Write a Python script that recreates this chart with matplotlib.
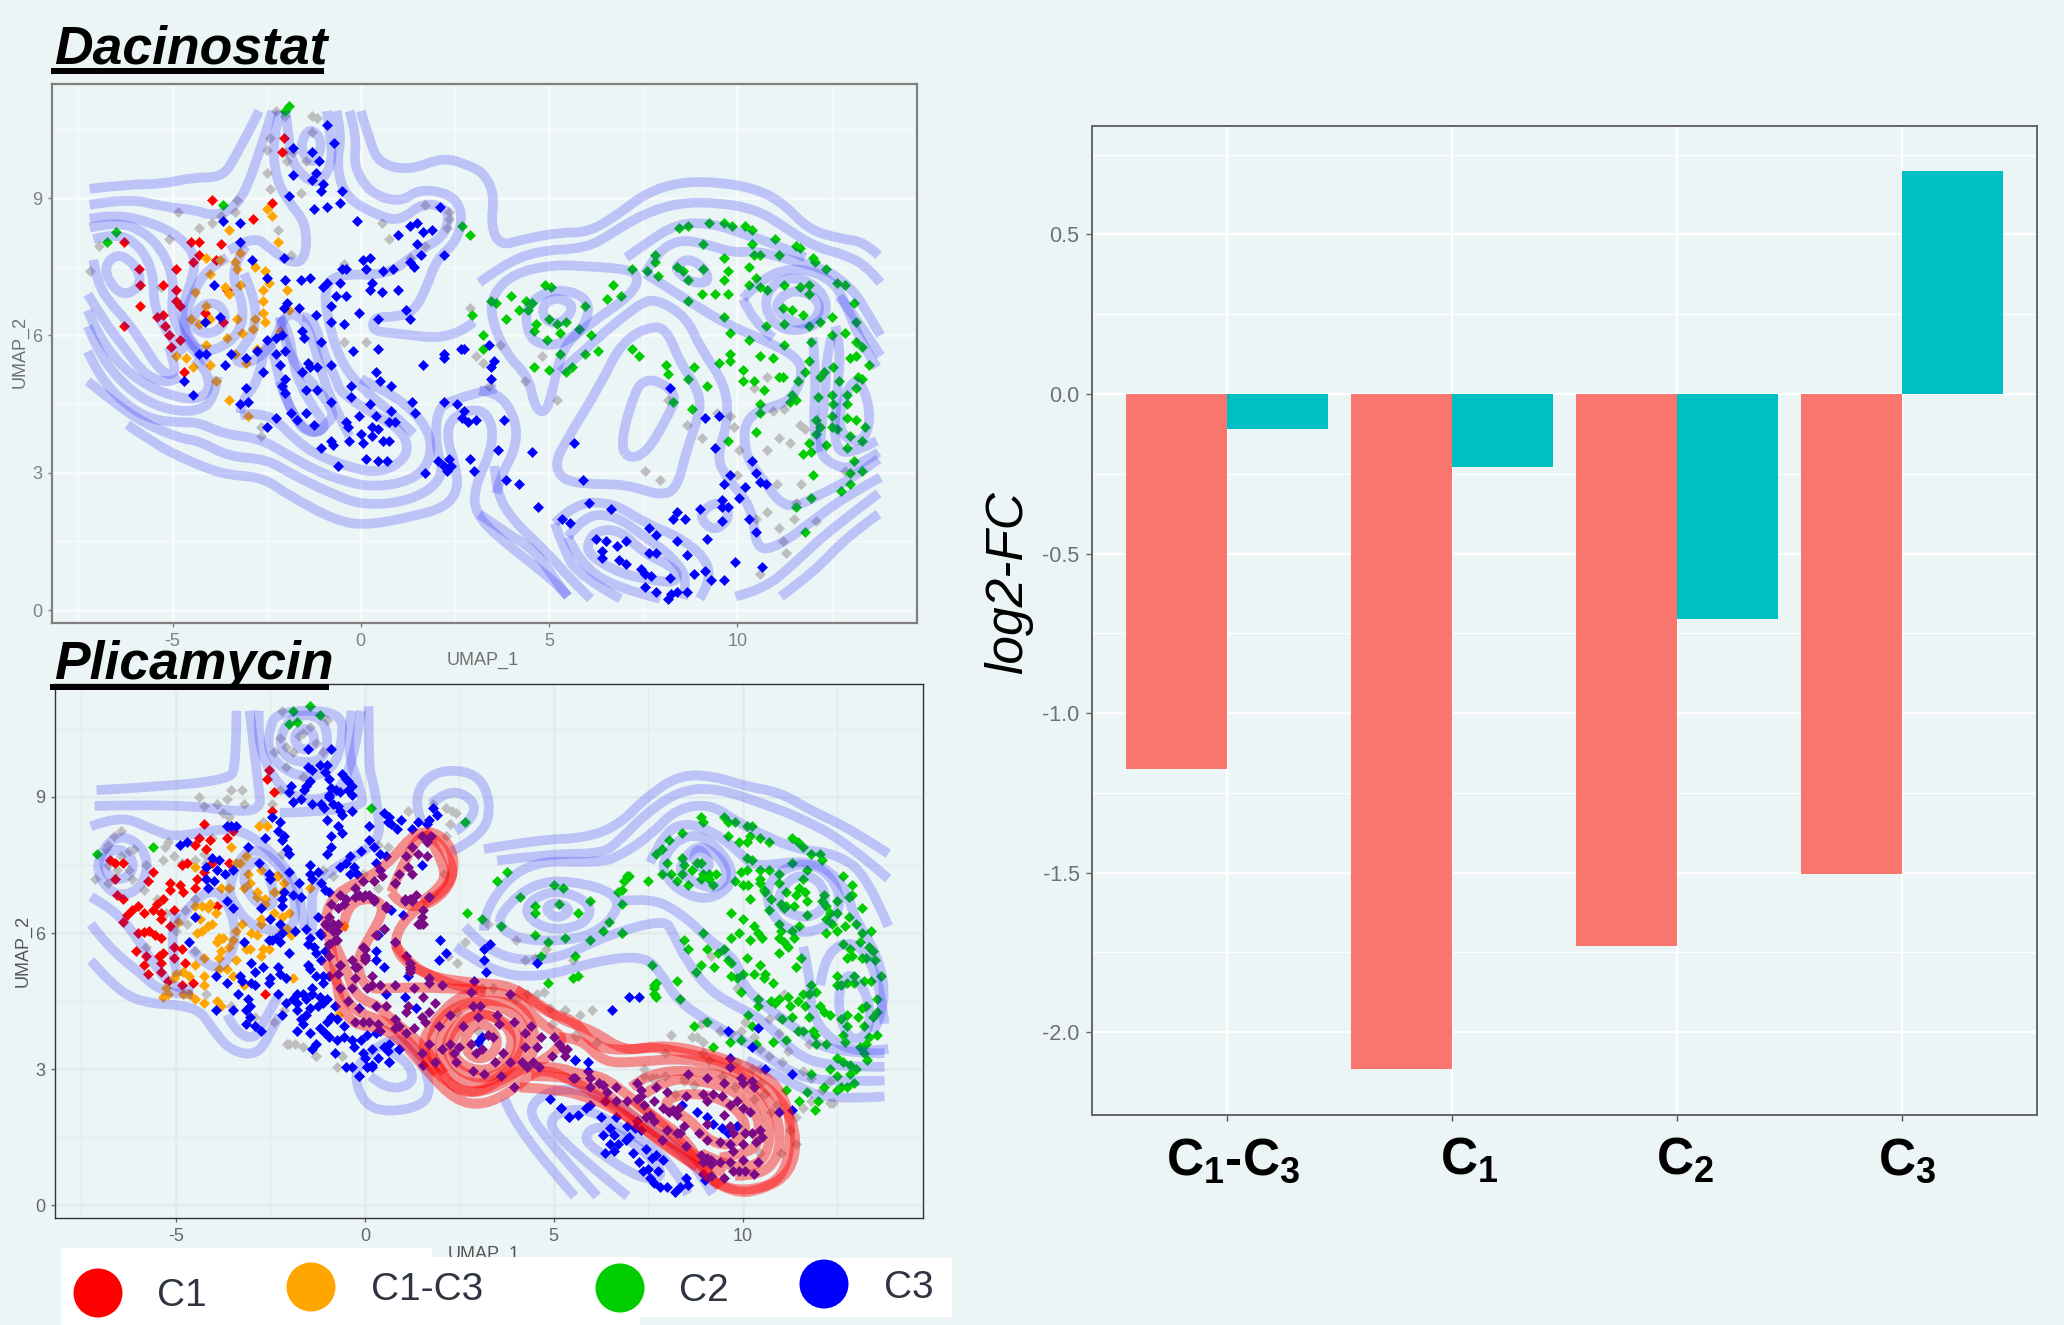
import matplotlib
matplotlib.use("Agg")
import matplotlib.pyplot as plt
from matplotlib.path import Path
from matplotlib.patches import PathPatch, Rectangle, Circle

plt.rcParams['font.family'] = ['Liberation Sans', 'DejaVu Sans']
plt.rcParams['mathtext.fontset'] = 'custom'
plt.rcParams['mathtext.rm'] = 'Liberation Sans:bold'
plt.rcParams['mathtext.bf'] = 'Liberation Sans:bold'
plt.rcParams['mathtext.default'] = 'rm'
plt.rcParams['axes.unicode_minus'] = False

BG = '#ECF5F6'
W, H = 2064, 1325

# ---------- bar chart ----------
bar_categories = [r'$\mathbf{C_1}$-$\mathbf{C_3}$', r'$\mathbf{C_1}$', r'$\mathbf{C_2}$', r'$\mathbf{C_3}$']
bar_red = [-1.175, -2.115, -1.73, -1.505]
bar_teal = [-0.11, -0.23, -0.705, 0.70]

# ---------- Dacinostat points (UMAP_1, UMAP_2) ----------
d_gray = [(-4.85,8.7),(-5.1,8.1),(-7.2,7.4),(-6.95,7.95),(-5.3,7.05),(-3.3,8.95),(-3.35,8.7),(-3.7,8.6),(-3.95,8.45),(-4.3,8.35),
(-2.25,10.9),(-2,10.8),(-1.3,10.8),(-1.15,10.75),(-2.4,10.3),(-2.5,10.05),(-2,10),(-1.8,10),(-1.95,9.8),(-1.45,9.8),(-1.3,10.45),(-2.5,9.55),(-2.4,9.2),(-1.6,9.1),(-2.2,8.3),(-1.85,7.75),
(.55,8.45),(.75,8.1),(1.7,8.85),(2.35,8.7),(2.35,8.55),(2.3,8.35),(1.7,7.95),(1.3,7.7),(-.45,7.55),(-.45,5.85),(.15,5.85),(2.9,6.6),(3.05,5.55),(3.25,5.4),(3.7,5.8),(3.4,4.9),(4.35,5),(4.8,5.55),(5.2,4.6),
(7.55,3.05),(7.95,2.85),(8.15,4.6),(8.65,4.05),(9.05,3.75),(9.45,4.3),(9.8,4.25),(9.9,4),(10.05,3.5),(10.8,3.5),(11.1,3.75),(11.4,3.65),(11.65,4.05),(11.8,3.95),(11.25,4.4),(10.95,4.35),(10.8,5.1),(10.45,4.85),(10,2.95),(11.05,2.75),(11.7,2.75),(11.55,2.35),(12.1,1.95),(11.5,2),(10.8,2.15),(10.5,2),(11.1,1.8),(11.2,1.5),(11.3,1.25),(10.6,.8),(12.85,3.05),(-2.65,4),(-2.65,3.8)]
d_red = [(-3.95,8.95),(-2.35,8.9),(-2.85,8.55),(-2.1,10),(-2.05,10.3),(-6.3,8.05),(-5.9,7.45),(-5.85,7.1),(-5.85,6.65),(-6.3,6.2),(-4.9,7.45),(-5.25,7.1),(-4.9,7),(-4.9,6.75),(-4.8,6.65),(-5.4,6.4),(-5.25,6.45),(-5.2,6.2),(-5.1,6),(-5.05,5.75),(-4.8,5.9),(-4.7,5.2),(-4.5,8.05),(-4.3,8.05),(-4.45,7.6),(-4.3,7.75),(-3.7,8),(-3.55,7),(-4.15,6.5),(-3.65,6.3),(-3.85,7.65)]
d_orange = [(-2.35,8.6),(-2.5,8.75),(-3.5,8.3),(-2.2,8.05),(-3.2,7.8),(-3.35,7.6),(-3.75,7.65),(-4.1,7.7),(-4,7.35),(-3.3,7.45),(-2.8,7.5),(-2.55,7.4),(-2.45,7.15),(-2.6,7),(-3.2,7.1),(-3.6,7.05),(-3.5,6.9),(-4.4,6.95),(-4.1,6.65),(-4.5,6.35),(-4.3,6.25),(-4,6.35),(-3.3,6.35),(-2.6,6.75),(-2.6,6.5),(-2.55,6.3),(-2.8,6.35),(-2.85,6.15),(-3.15,6.05),(-3.55,5.95),(-4.1,5.8),(-3.35,5.6),(-3.05,5.4),(-2.75,5.7),(-2.15,6.1),(-1.9,6.55),(-1.95,7),(-4.9,5.55),(-4.65,5.5),(-4,5.35),(-3.85,5),(-4.45,5.3),(-3.5,4.6),(-3,4.25)]
d_green = [(-2,10.9),(-1.9,11),(-6.5,8.25),(-6.75,8.05),(-3.65,8.85),(2.7,8.4),(2.9,8.2),(8.45,8.35),(8.7,8.4),(9.25,8.45),(9.65,8.45),(9.85,8.4),(10.2,8.4),(10.4,8.3),(10.4,8),(11,8.1),(11.55,7.95),(11.65,7.9),(12,7.7),(12.05,7.6),(12.35,7.45),(9.1,8),(10.45,7.75),(10.6,7.75),(11.1,7.75),(9.65,7.7),(10.3,7.5),(7.8,7.75),(7.8,7.6),(7.6,7.4),(7.2,7.45),(7.9,7.3),(8.4,7.5),(8.55,7.4),(8.7,7.2),(9.1,7.45),(9.75,7.4),(9.65,7.2),(9.05,6.9),(9.4,6.9),(9.75,6.9),(8.7,6.75),(9.65,6.4),(10.3,7.1),(10.5,7.25),(10.6,7.05),(10.8,7),(11.25,7.1),(11.65,7.05),(11.9,7.1),(11.9,6.9),(12.65,7.15),(12.85,7.1),(13.1,6.7),(11.2,6.6),(11.45,6.55),(11.75,6.45),(12.5,6.4),(11.9,6.2),(12.2,6.3),(11.25,6.25),(10.75,6.2),(10.3,5.9),(9.8,6.05),(13.15,6.3),(12.5,6),(12.85,6.05),(11.95,5.85),(11.25,5.8),(11.9,5.45),(11.8,5.2),(12.3,5.2),(12.2,5.1),(12.7,5),(11.6,5),(11.2,5.1),(13.15,5.85),(13.3,5.75),(13.15,5.55),(13.5,5.35),(13.2,5.1),(13,5.5),(12.55,5.3),(13.3,5.05),(13.15,4.85),(12.15,4.65),(12.9,4.7),(12.5,4.7),(12.55,4.5),(12.9,4.5),(11.45,4.7),(11.55,4.6),(11.4,4.55),(10.6,4.5),(10.6,4.3),(12.5,4.25),(12.9,4.2),(13.15,4.15),(12.5,4),(12.2,4),(12.65,3.95),(13.4,4),(13,3.8),(13.3,3.7),(12.1,4.15),(12.1,3.85),(12.35,3.6),(12.9,3.55),(11.9,3.65),(11.75,3.4),(11.95,3.45),(13.1,3.25),(13,3),(13.3,3.05),(12,2.95),(13,2.75),(12.75,2.6),(11.95,2.45),(11.55,2.25),(11.8,1.7),
(9.5,5.4),(9.8,5.6),(9.8,5.45),(10.15,5.25),(10.6,5.55),(10.45,5),(10.15,5),(10.95,5.5),(11.1,5.1),(10.7,4.8),(8.85,5.3),(8.7,5.05),(9.2,4.9),(8.1,5.35),(8.15,5.15),(8.8,4.4),(8.3,4.55),(7.2,5.7),(7.4,5.55),(9.75,3.7),(10.5,3.9),
(3.45,6.75),(3.6,6.7),(4,6.85),(3.85,6.35),(4.2,6.55),(4.4,6.75),(4.55,6.7),(4.45,6.55),(4.9,7.1),(5.05,7.05),(2.95,6.45),(3.25,6),(3.25,5.7),(4.65,6.25),(4.6,6.1),(5,6.35),(5.2,6.25),(5.45,6.3),(5.3,6.05),(4.95,5.9),(5.8,6.15),(5.95,6.65),(6.7,7.1),(6.55,6.8),(6.9,6.85),(6.1,6),(6.3,5.65),(5.95,5.6),(5.6,5.3),(5.45,5.2),(5.3,5.6),(5,5.25),(4.6,5.3)]
d_blue = [(-.9,10.6),(-.7,10.2),(-1.3,10),(-1.8,10.1),(-1.1,9.8),(-1.8,9.5),(-1.2,9.55),(-1.3,9.4),(-1,9.3),(-.5,9.15),(-1.05,9.15),(-1.9,9.05),(-.55,8.9),(-.9,8.8),(-1.25,8.75),(-.1,8.5),(2.1,8.8),(1.3,8.4),(1.5,8.45),(1.65,8.25),(1.9,8.3),(1,8.2),(1.5,8),(2.2,7.75),(1.6,7.75),(1.3,7.6),(1.4,7.5),(.85,7.45),(.6,7.4),(.25,7.7),(.05,7.65),(.15,7.45),(-.5,7.45),(-.4,7.45),(-3.2,8.45),(-3.65,8.5),(-2.9,7.65),(-3.2,8.05),(-2.05,7.7),(-2.5,7.25),(-2,7.2),(-1.6,7.2),(-1.35,7.25),(-.9,7.15),(-1,7.05),(-.55,7.15),(.3,7.15),(.25,7),(.55,6.95),(1,7),(-.65,6.85),(-.4,6.85),(-.8,6.65),(-.05,6.5),(.45,6.35),(1.2,6.55),(1.3,6.35),(-.45,6.25),(-.8,6.3),(-1.2,6.45),(-1.65,6.6),(-1.95,6.7),(-2.05,6.6),(-1.55,6.1),(-1.5,5.95),(-1.05,5.85),(-2.25,5.95),(-2.1,6),(-2.5,5.9),(-2,5.65),(-.2,5.65),(.45,5.7),(-1.4,5.4),(-1.35,5.3),(-1.55,5.2),(-1.15,5.3),(-.8,5.35),(.4,5.2),(-2.25,5.6),(-2.15,5.35),(-2,5.05),(-2.1,4.9),(-2,4.75),(-1.45,4.8),(-1.15,4.8),(-.8,4.55),(-.25,4.9),(-.25,4.65),(.5,5),(.8,4.9),(1.65,5.35),(2.2,5.5),(2.2,5.6),(2.65,5.7),(2.75,5.7),(3.4,5.8),(3.55,5.45),(3.45,5.05),(3.45,5.3),(1.35,4.55),(1.45,4.3),(2.2,4.55),(2.55,4.5),(2.75,4.35),(2.7,4.2),(2.85,4.1),(3.05,4.15),(3.8,4.15),(.25,4.5),(.4,4.25),(.8,4.35),(.75,4.1),(.9,4.1),(-.05,4.25),(-.4,4.1),(-.35,4),(.3,4),(.45,3.95),(0,3.85),(.3,3.8),(.6,3.7),(.75,3.7),(.05,3.65),(-.3,3.7),(-.8,3.7),(-.75,3.6),(-1.05,3.55),(-.6,3.15),(.15,3.3),(.45,3.25),(.7,3.25),(1.7,3),(2.05,3.25),(2.35,3.3),(2.4,3.15),(2.3,3.05),(2.2,3.15),(3,3.05),(2.9,3.3),(3.65,3.5),(4.55,3.45),(3.85,2.85),(4.2,2.75),(4.7,2.25),(5.65,3.65),(5.9,2.85),(6.05,2.35),(6.65,2.2),(5.35,2),(5.55,1.9),(6.25,1.55),(6.5,1.5),(6.8,1.4),(7.05,1.5),(6.4,1.3),(6.4,1.15),(6.85,1.1),(7.05,1),(7.45,.9),(7.55,.8),(7.7,.75),(7.65,1.8),(7.85,1.65),(7.65,1.25),(7.85,1.25),(8.4,1.5),(8.65,1.2),(8.2,.7),(7.55,.5),(7.85,.4),(8.15,.25),(8.25,.35),(8.4,.4),(8.65,.4),(8.85,.8),(9.15,.85),(9.3,.65),(9.65,.65),(9.95,1.05),(10.65,.95),(9.2,1.55),(8.4,2.15),(8.3,2),(8.6,2),(9,2.2),(9.6,2.4),(9.6,2.25),(9.75,2.25),(9.6,1.95),(10.3,2),(10.5,1.7),(10.05,2.45),(9.65,2.75),(10.2,2.7),(9.8,2.95),(10.5,3),(10.6,2.8),(10.75,2.75),(10.4,3.25),(9.4,3.55),(9.15,4.2),(9.5,4.25),(8.2,4.85),
(-3.9,7.1),(-3.75,6.4),(-4.15,6.3),(-4.3,5.6),(-4.1,5.6),(-3.6,5.35),(-3.45,5.6),(-3.05,5.5),(-2.75,5.65),(-2.6,5.2),(-3.05,4.85),(-3.2,4.5),(-3,4.55),(-2.25,4.2),(-2.5,4),(-1.85,4.3),(-1.45,4.3),(-1.7,4.15),(-1.25,4.05),(-4.7,5),(-4.45,4.7)]

# ---------- Plicamycin points (UMAP_1, UMAP_2) ----------
p_gray = [(-4.4,9),(-4.25,8.8),(-3.9,8.85),(-3.65,8.95),(-3.55,9.15),(-3.25,9.15),(-3.2,8.85),(-3.75,8.65),(-3.6,8.55),(-4.05,8.1),(-4.25,7.75),(-5.3,7.9),(-5.2,8),(-5.05,7.7),(-4.85,7.55),(-4.5,7.6),(-5.35,7.6),(-6.45,8.25),(-6.65,8.15),(-6.8,7.95),(-6.85,7.85),(-6.1,7.85),(-6.25,7.8),(-6.45,7.7),(-6.55,7.4),(-6.8,7.5),(-7.15,7.2),(-6.8,7.1),(-6.15,7.2),(-5.8,7.5),(-5.85,6.95),(-6.25,7.4),
(-2.2,10.9),(-2.25,10.3),(-1.75,10.35),(-1.65,10.4),(-1.3,10.2),(-1.45,10.55),(-1,10.7),(-2.4,10),(-2.1,10.1),(-1.9,10),(-1.1,10),(-2.1,9.65),(-1.65,9.45),(-2.25,9.15),(-2.45,8.85),(-2.7,8.45),(-2.2,7.75),
(1.15,8.7),(1.8,8.85),(2.15,8.75),(2.3,8.7),(2.4,8.65),(2.25,8.4),(2.15,8.15),(.35,7.95),(.6,7.9),(-.85,7.25),(-1.1,7.4),(-.05,7.3),(.35,7),(2.1,7.3),(-4.2,7.55),(-5.5,6.75),(-5.25,6.45),(-4.7,6.2),(-4.75,6.5),(-4.5,6.75),(-5,6.05),(-5.8,5.7),(-4.5,5.6),(2.65,5.8),(2.45,5.35),(2.2,5.5),(-2,3.55),(-1.85,3.55),(-1.65,3.5),(-.75,3.05),(-.6,3.3),(-1.3,3.3),(-2.9,4.15),(-2.4,4.05),(-2.15,4.3),(-3.55,4.4),(-4.2,4.65),
(9.15,5.5),(11.1,4.65),(8.1,3.75),(8.9,4),(8.8,3.7),(8.95,3.6),(9.4,3.85),(9.7,3.8),(9.95,3.85),(10.3,3.7),(10.7,4.1),(10.95,4.15),(10.05,4.05),(10.95,3.8),(9.85,4.8),(11.2,3.4),(11.75,3.55),(10.45,3.45),(10.7,3.3),(11.05,3.15),(7.95,3.35),(8.95,3.35),(9.1,3.2),(9.85,3.15),(10.25,3),(10.45,3),(11.6,2.95),(11.8,2.8),(12.3,2.75),(12.1,2.55),(11.8,2.3),(12.3,2.25),(12.4,2.25),(11.6,2.15),(11.4,1.95),(10.3,2.35),(10.55,2.45),(8.45,2.75),(7.6,2.8),(7.4,3),
(3.25,6.2),(4,5.85),(4.25,5.4),(4.5,5.45),(5.5,5.4),(4.8,5.65),(-2.05,3.55),(-1.3,3.3),(-.6,3.3),(4.75,4.7),(4.55,4.65),(5.3,4.3),(4.9,4.35),(4.3,4.65),(4,4.55),(3.4,4.8),(3.1,4.8),(2.45,4.25),(3,3.85),(4.95,4),(5.55,3.75),
(5.3,4.3),(5.7,4.2),(6,4.3),(5.6,3.7),(6.15,3.6),(7.4,2.85),(7.7,2.8),(7.95,2.85),(8.45,2.8),(8.7,2.65),(9.45,2.85),(9.8,2.6),(10.45,2.7),(10.9,2.2),(10.6,2.45),(10.75,2.05),(10.45,1.15),(11,1.15),(11.25,1.65),(11.4,1.35),(8.2,2.45),(9.4,3.85),(9,4.05),(8.65,3.7)]
p_red = [(-4.25,8.4),(-4.4,8.1),(-4.5,7.95),(-4.1,8.05),(-4.2,7.85),(-3.65,8.1),(-3.5,8.25),(-2.6,9.4),(-2.55,9.6),(-2.4,9.1),(-2.45,8.7),(-3.6,7.55),(-4.05,7.55),(-4.25,7.35),(-4.45,7.2),(-4.5,7),(-4.7,7.55),(-4.85,7.5),(-6.75,7.6),(-6.6,7.55),(-6.4,7.55),(-6.6,7.2),(-5.75,7.15),(-5.6,7.35),(-6.55,6.85),(-6.4,6.75),(-5.15,7.1),(-4.9,7.05),(-5.15,6.95),(-4.8,6.9),(-5.35,6.75),(-5.5,6.65),(-5.6,6.5),(-5.4,6.45),(-5.05,6.5),(-6,6.6),(-6.15,6.5),(-6.3,6.4),(-6.4,6.25),(-5.85,6.45),(-5.4,6.3),(-5.15,6.15),(-6,6),(-5.85,6.02),(-5.7,6.05),(-5.55,5.95),(-5.4,5.9),(-6.05,5.6),(-5.8,5.5),(-5.85,5.3),(-5.45,5.5),(-5.35,5.55),(-5.05,5.7),(-4.85,5.65),(-5.05,5.45),(-5.4,5.35),(-5.4,5.15),(-5.75,5.1),(-5.2,4.95),(-4.75,5.35),(-4.55,4.9),(-4.85,4.85),(-2.65,4.65),(-3.9,6.6)]
p_orange = [(-2.8,8.35),(-2.6,8.35),(-3.55,7.9),(-4.5,7.45),(-3.4,7.55),(-3.1,7.3),(-3.05,7.1),(-3.2,7),(-2.75,7.4),(-2.85,6.9),(-2.85,6.8),(-2.65,6.75),(-1.45,7),(-2.35,7.25),(-2.4,6.45),(-4.95,6.25),(-4.1,6.65),(-4.35,6.3),(-4.05,6.2),(-2.05,6.1),(-1.95,5.95),(-2.2,6.05),(-3.15,5.65),(-3.05,5.65),(-2.7,5.65),(-2.55,5.65),(-2.75,5.5),(-.55,6.15),(-4.25,5.45),(-5,5.1),(-4.8,5.15),(-4.65,5.05),(-5.05,5),(-5.25,4.8),(-5.2,4.65),(-4.25,5.05),(-4.25,4.85),(-3.5,5.05),(-4.25,4.45),(-3.9,4.5),(-3.8,4.4),(-4.5,4.55),(-1.9,5),(-.7,4.2),(-3.4,5.4),(-3.75,5.9),
(-3.15,7.7),(-3.3,7.55),(-3.6,7),(-3.8,7),(-2.15,7.1),(-2.3,7.25),(-2.2,6.9),(-2.4,6.9),(-2.65,6.65),(-2.2,6.35),(-2,6.45),(-2.75,6.3),(-2.75,6.2),(-3,6),(-2.85,5.95),(-3.25,6.2),(-3.4,6.05),(-4.5,6.6),(-4.3,6.6),(-4.15,6.55),(-3.95,6.45),(-4.15,6.15),(-4.3,6.05),(-4.45,6),(-3.85,5.9),(-3.9,5.8),(-3.5,5.85),(-3.6,5.7),(-3.8,5.6),(-3.85,5.45),(-3.65,5.2),(-3.85,5.2),(-4.5,5.3),(-4.8,4.65),(-4.65,4.65),(-5.35,4.6),(-3.2,4.85)]
p_green = [(8.9,8.55),(8.95,8.45),(9.5,8.55),(9.6,8.45),(9.8,8.45),(10.1,8.35),(10.25,8.35),(10.2,8.15),(10.45,8.1),(10.7,8),(9.6,8.15),(9.9,8),(10.1,8),(11.3,8.1),(11.45,8),(11.6,7.9),(8.4,8.2),(8.05,8.05),(7.85,7.85),(7.7,7.75),(8,7.55),(8.4,7.65),(8.45,7.5),(7.85,7.3),(8.1,7.3),(8.25,7.15),(8.55,7.05),(8.4,7.3),(8.65,7.4),(8.8,7.55),(8.9,7.55),(8.95,7.3),(8.9,7.2),(9.1,7.3),(9.3,7.3),(9.2,7.05),(9.1,7.2),(9.8,7.15),(10,7.05),(10.15,7.05),(10.45,7.1),(10.45,7.2),(10.45,7.4),(10.7,7.4),(10.1,7.65),(10.25,7.6),(9.95,7.35),(10.1,7.4),(10.55,6.95),(10.75,6.75),(10.6,6.9),(10.2,6.75),(10.95,7.1),(10.95,7.3),(11.15,6.9),(11.3,7.55),(11.7,7.4),(11.6,7.2),(11.8,7.75),(12.05,7.75),(12.1,7.6),(12.65,7.25),(12.9,7.05),(12.9,6.85),(12.8,6.8),(11.5,7),(11.4,6.85),(11.65,6.9),(11.7,6.7),(11.35,6.6),(11.15,6.6),(11,6.65),(11.1,6.55),(12.15,6.85),(12.1,6.7),(12.2,6.6),(12.5,6.7),(12.5,6.45),(12.3,6.45),(12.2,6.3),(11.7,6.4),(11.5,6.15),(12.35,6.2),(12.2,6),(12.5,6.05),(12.7,6.15),(12.8,6.35),(10.7,6.5),(10.95,6.2),(11,6.05),(11.3,6.05),(11.35,5.9),(10.95,5.9),(11.1,5.8),(11.2,5.7),(13.15,6.55),(13,6.2),(13.15,6),(13.4,6.05),(13.1,5.8),(13.35,5.7),(13.45,5.6),(13.25,5.45),(13.5,5.4),(13.65,5.05),(13.4,4.95),(13.55,4.55),(13.25,4.4),(13.55,4.25),(13.45,4.15),(13.15,4.35),(13.05,4.15),(13.2,3.95),(13.55,3.75),(13.35,3.7),(13.25,3.55),(13.1,3.5),(13.2,3.35),(13.3,3.2),(13,3),(12.85,2.9),(12.95,2.7),(12.75,2.6),(12.5,2.55),(12.6,2.6),(12.5,2.85),(12.3,3),(12.65,3.15),(12.85,3.1),(12.5,3.25),(12.2,3.55),(12.7,3.6),(12.65,3.75),(12.75,3.95),(12.6,4.1),(12.75,4.2),(12.3,4.2),(12.05,4.4),(12.15,4.25),(11.75,4.15),(11.3,4.15),(10.95,4.55),(11.2,4.6),(11.45,4.5),(11.25,4.4),(10.85,4.45),(10.75,4.5),(10.4,4.55),(10.4,4.4),(10.15,4.2),(11.05,4.1),(11.8,4.85),(11.6,4.65),(11.75,4.65),(11.95,4.7),(11.65,4.4),(12.5,5.05),(12.5,4.85),(12.6,4.85),(12.75,4.9),(12.95,5.05),(12.95,4.9),(13.2,4.95),(11.55,5.45),(11.4,5.25),(10.95,5.55),(12.65,5.75),(12.85,5.65),(12.75,5.45),(12.9,5.5),(13.15,5.45),(10.1,5.45),(10.45,5.3),(10.3,5.1),(10.6,5.1),(10.55,5),(10.8,4.9),(10,5.1),(9.85,5),(9.7,5.05),(9.95,4.7),(9.25,5.25),(8.9,5.3),(8.75,5.15),(9.35,5.55),(9.5,5.65),(9.6,5.4),(9.7,5.35),(9.05,5.65),(8.95,6),(8.55,5.65),(8.45,5.85),(9.7,5.9),(9.9,6),(10.2,5.85),(10.3,6.15),(10.4,6),(10.5,5.9),(10,6.3),(9.7,6.45),(7.6,5.3),(8.25,4.95),(7.7,4.9),(7.65,4.8),(7.7,4.6),(8.35,4.55),(8.7,3.95),(9.05,4.05),(9.2,3.5),(9.65,3.6),(9.95,3.65),(10.25,3.95),(10.35,3.55),(10.8,3.6),(11.15,3.65),(11.45,3.85),(11.6,3.85),(11.85,3.85),(11.9,3.75),(11.95,3.55),(11.8,2.9),(12.15,2.6),(11.15,2.55),(11.5,2.3),(11.7,2.5),(11.9,2.1),(12,2.3),(6.95,7.25),(7,7.25),(6.85,7.15),(6.8,6.95),(7.5,7.15),(6.8,6.65),(6.8,6),
(3.75,7.35),(3.5,7.15),(2.7,6.45),(3.1,6.3),(3.6,6.15),(4.1,6.8),(4.5,6.6),(4.5,6.45),(5,7.05),(5.25,7),(5.15,6.65),(5.95,6.7),(5.65,6.45),(4.5,5.95),(4.85,5.8),(5.3,5.9),(5.95,5.85),(6.3,6.05),(6.8,6),(6.45,6.25),(6.7,6.9),(5.55,5.5),(4.65,5.5),(5.5,5),(5.65,5.05),(4.85,4.9),(7.65,4.85),(7.65,4.65),
(-7.1,7.75),(-5.6,7.9),(.15,8.75),(2.65,8.45),(-1.9,10.9),(-1.45,11),(-1.2,10.8),(-2,10.6),(-1.8,10.65)]
p_blue = [(-.9,10.05),(-1.5,10.05),(-1.5,9.65),(-1.4,9.6),(-1.2,9.7),(-1,9.7),(-1.05,9.55),(-.6,9.5),(-.5,9.4),(-.45,9.35),(-.35,9.25),(-.95,9.4),(-1.45,9.35),(-1.55,9.25),(-1.6,9.15),(-1.95,9.25),(-2,9.1),(-1.9,8.9),(-1.7,8.95),(-1.4,8.85),(-1.15,8.85),(-1.08,8.75),(-.9,9.2),(-.77,9.15),(-.95,9.05),(-.95,9),(-.85,8.85),(-.7,8.8),(-.65,8.7),(-.6,8.6),(-.35,8.7),(-.45,9.15),(-.35,9.05),(-.65,9.1),
(-1,8.5),(-.7,8.35),(.1,8.35),(-.9,8.15),(-.6,8.2),(.1,8.05),(-.9,7.9),(-1,7.75),(-.1,7.8),(.25,7.9),(-.4,7.7),(-.5,7.55),(-.65,7.45),(.5,8.65),(.65,8.55),(.6,8.45),(.7,8.4),(.95,8.5),(.85,8.3),(1.4,8.45),(1.7,8.5),(1.9,8.6),(1.8,8.75),(1.65,8.4),(1.25,8.3),(.4,7.75),(.3,7.55),(.4,7.4),(-.3,7.45),(-.2,7.3),(-.4,7.3),(.55,7.7),(1.5,7.5),
(-2.45,8.55),(-2.25,8.45),(-2.3,8.25),(-2.15,8.15),(-2.2,8.05),(-2.05,7.85),(-2,7.75),(-2.65,8.1),(-3.4,8.35),(-3.55,8.35),(-3.65,8.35),(-4.9,7.95),(-4.7,8),(-3.1,7.9),(-3.85,7.6),(-4.05,7.65),(-4.2,7.45),(-3.9,7.4),(-3.5,7.4),(-3.7,7.3),(-4.2,7.2),(-4,7.15),(-4.15,7),(-3.65,6.7),(-3.5,6.55),(-4.5,6.35),(-2.8,7.55),(-2.55,7.3),(-2.5,7.2),(-2.15,6.9),(-2.2,6.75),(-2.2,6.6),(-2,7.35),(-1.75,7.1),(-1.9,6.85),(-1.7,6.8),(-2.75,6.55),(-2.5,6.3),(-2.25,6.2),(-1.85,6.05),(-1.55,6.1),(-1.45,7.5),(-1.45,7.3),(-1.25,7.35),(-1.4,7.2),(-1.15,7.1),(-1.05,6.95),(-.95,6.9),(-2.25,5.8),(-2.35,5.9),(-2.55,5.85),(-2.45,5.85),(-2.2,6),(-4.65,5.8),(-3.2,5.8),(-1.45,5.9),(-1.5,5.75),(-1.15,5.95),(-1.2,6),(-1.25,6.35),(-1.05,5.6),(-1.35,5.7),(-1.3,5.55),(-1.15,5.4),(-2,5.55),(-3,5.35),(-2.7,5.25),(-2.9,5.15),(-2.3,5.25),(-2.25,5.1),(-2.1,5),(-2.5,5),(-2.55,4.9),(-1.5,5.3),(-1.45,5.2),(-1.3,5.05),(-1.1,5.05),(-.95,5.05),(-1.1,4.9),(-1.4,4.8),(-3.95,5.05),(-3.65,4.9),(-3.3,5.05),(-3.25,4.95),(-3,4.9),(-2.9,4.85),(-3.35,4.65),(-2.3,4.65),(-1.8,4.65),(-1.65,4.65),(-1.9,4.55),(-2.1,4.45),(-1.8,4.45),(-1.55,4.55),(-1.4,4.65),(-1.2,4.6),(-1,4.55),(-1.1,4.45),(-1.8,4.3),(-1.45,4.35),(-1.25,4.4),(-.8,4.4),(-3.95,4.3),(-3.5,4.3),(-3.1,4.55),(-3.05,4.4),(-3.15,4.3),(-3.05,4.15),(-3.15,4),(-2.9,3.95),(-2.75,3.85),(-2.2,4.2),(-1.7,4.1),(-1.55,4.2),(-1.8,3.85),(-1.65,4),(-1.45,3.8),(-1.2,3.9),(-1,4.05),(-.9,4.15),(-.75,4.1),(-1.05,3.8),(-.95,3.7),(-.75,3.65),(-.55,3.7),(-.55,3.95),(-.35,3.65),(-.1,3.65),(.05,3.75),(.3,3.8),(.4,3.85),(-.3,3.5),(-.05,3.35),(.2,3.45),(.5,3.5),(.6,3.4),(.9,3.45),(-1.3,3.55),(-1.4,3.45),(-.8,3.35),(0,3.25),(.35,3.25),(.65,3.15),(-.5,3.05),(-.35,3.05),(-.15,2.85),(.05,3.05),(.2,3.1),
(2,5.85),(2.15,5.55),(1.95,5.4),(3.15,5.65),(3.3,5.75),(3.15,5.4),(3.2,5.15),(4.55,5.35),(2.9,4.95),(.5,6.1),(.35,5.95),(1,6.4),(.7,6.5),(1.1,5.5),(.3,5.6),(.5,5.25),(.3,5.4),(1.05,4.6),(1.35,4.35),(.3,4.4),(-.15,4.35),(.55,4.65),(1.15,5.05),(.65,3.55),(.9,3.45),(.65,3.15),(.2,3.05),(.05,3.05),(-.15,2.85),(1.55,3.1),(4.9,2.35),(5.2,2.15),(5.4,1.95),(5.55,3.2),(3.1,3.7),(3,3.6),
(7,4.6),(7.25,4.6),(6.55,4.3),(5.55,3.2),(5.9,3.15),(5.9,2.95),(5.2,2.15),(5.4,1.95),(5.65,2),(5.85,2.15),(5.95,2.2),(6.25,1.95),(6.35,2.3),(6.65,1.95),(6.5,1.7),(6.3,1.55),(6.6,1.55),(6.5,1.35),(6.7,1.35),(6.9,1.45),(7,1.5),(6.6,1.2),(6.35,1.15),(7.1,1.15),(6.95,1.75),(7.15,1.7),(7.3,1.65),(7.45,1.25),(7.7,1.1),(7.6,1.05),(7.9,1),(7.25,.95),(7.5,.8),(7.35,.75),(7.75,.75),(7.55,.6),(7.65,.5),(7.8,.4),(8,.4),(8.2,.3),(8.35,.4),(8.55,.45),(8.5,.6),(8.95,.7),(9,.55),(7.2,1.85),(8.8,2.05),(9.05,1.95),(9.45,1.7),(9.6,1.6),(9.2,1.8),(9.85,1.75),(8.4,2.2),(9.65,1.35),(9.6,3.85),(10.4,3.9),(10.25,3.5),(9.65,3.25),(10.6,3),(11.3,2.9),(11.3,2.1),(10.95,2.05)]
# C3 cells lying under the red Plicamycin density read as purple
p_purple = [(-.95,6.35),(-1.05,6.2),(-.85,6.05),(-.7,6.2),(-.65,6.85),(-.9,6.65),(-.55,6.65),(-.25,6.8),(-.05,6.8),(.1,6.85),(.25,6.75),(.55,6.55),(.8,7.1),(1.05,6.75),(1.25,6.7),(1.7,6.8),(1.5,6.35),(1.4,6.2),(1.55,6.2),(.8,5.8),(1.2,5.35),(1.2,5.2),(1.7,5),(1.7,4.9),(2.05,4.85),(1.3,4.8),(.8,4.85),(.4,4.85),(.2,4.85),(.05,4.8),(.2,5.05),(-.25,5),(-.35,4.8),(-.65,4.8),(-.7,5.1),(-.65,5.3),(-.25,5.25),(0,5.4),(0,5.5),(-.05,5.7),(-.35,5.4),(-.45,4.5),(-.95,5.5),(-.75,5.85),(-.95,5.75),
(-.25,4.05),(-.05,4.05),(.1,4.05),(.35,4),(.55,4.4),(.8,4.1),(.9,3.95),(.8,3.9),(1.1,3.8),(1.3,3.9),(1.15,4.4),(1.1,4.25),(1.55,4.6),(1.5,4.15),(1.6,4.05),(1.7,4.25),(1.85,4.45),(1.95,3.95),(2.25,4.2),(1.5,3.35),(1.7,3.55),(1.85,3.15),(2.05,3.45),(2.25,3.55),(2.35,3.35),(2.5,3.5),(2.6,3.95),(2.85,4.4),(3.05,4.4),(3,4.15),(2.8,4.7),(2.8,3.55),(3.1,3.45),(2.4,3.15),(2.85,2.95),(3.15,2.9),(3.6,2.85),(3.85,3.15),(3.45,3.15),(3.65,3.35),(3.5,4.2),(3.85,4.65),(3.95,4.05),(4.15,3.15),(4.3,3.05),(4.45,3.15),(4.25,3.5),(4.55,3.5),(4.65,3.7),(4.25,3.8),(4.4,3.95),(5,3.7),(5.15,3.55),(5.35,3.45),(5.3,3.3),(4.95,3.3),(4.6,3.05),(3.95,2.6),(5.5,2.8),(3.25,3.75),(3.4,3.7),(2.95,3.35),(3.55,4),
(1.5,8.15),(1.75,8.15),(1.65,8),(1.25,7.9),(1.1,7.7),(1.4,7.75),(1.65,7.7),(1.15,7.45),(1.25,7.3),(.9,7.3),(.8,7.1),(1.35,6.85),(1.7,6.8),(1.05,6.7),(1.2,6.75),(.45,7.25),(.25,7.15),(-.05,7.15),(-.25,7),(0,6.85),(-.15,6.85),(-.5,6.75),(-.7,6.55),(.25,6.7),(.55,6.6),(1.55,6.5),(1.45,6.2),(.5,6.1),(.3,5.95),(0,5.65),(0,5.45),(-.8,5.85),(-1,6.15),(-.85,6.2),(-.75,6.05),(-.95,5.75),(.8,5.8),(1.2,5.25),(1.2,5.15),(-.2,5.25),(-.65,5.3),
(5.25,3.45),(5.55,2.8),(5.95,2.8),(5.95,2.6),(6.2,2.7),(6.3,2.65),(6.4,2.5),(6.65,2.6),(6.65,2.3),(6.95,2.3),(7.2,2.7),(7.3,2.55),(7.3,2.4),(7.2,2.35),(7.4,2.2),(7.7,2.6),(7.65,2.3),(8,2.5),(8.55,2.9),(9.05,2.8),(9.5,2.7),(9.65,3.05),(9.95,2.8),(10.25,2.75),(10.3,2.6),(10,2.7),(8.95,2.45),(9.2,2.45),(9.05,2.3),(9.45,2.4),(9.85,2.3),(9.65,2.2),(10,2.15),(9.5,2),(10.2,2.05),(8.5,2.4),(8.3,2.15),(8.15,2.1),(8.45,1.75),(8.25,2),(8.05,2.05),(7.9,2.15),(7.65,1.85),(7.45,1.95),(7.55,2),(8,1.65),(8.25,1.6),(8.35,1.6),(9.05,1.8),(8.85,1.6),(9.05,1.45),(9.4,1.4),(9.65,1.75),(9.75,1.6),(10.05,1.6),(10.25,1.6),(10.45,1.65),(10.5,1.5),(10.35,1.4),(9.75,1.2),(10,1.35),(8.5,1.3),(7.85,1.45),(8.9,1.1),(9.05,1.05),(9.15,1),(8.95,.95),(9.15,.9),(9.4,.95),(9.65,.95),(10,1),(10.05,.75),(9.9,.75),(9.75,.75),(9.5,.6),(10.3,.7),(10.4,.95),(9.15,.65)]

# ---------- density contour traces (UMAP_1, UMAP_2), False = open, True = closed ----------
d_contours = [
 (False,[(-7.2,9.2),(-6.2,9.3),(-5.3,9.3),(-4.45,9.45),(-3.75,9.45),(-3.4,9.75),(-2.7,10.9)]),
 (False,[(-7.2,8.85),(-6.2,9),(-5.2,8.8),(-4.45,8.75),(-3.9,8.6),(-3.3,8.8),(-2.85,9.55),(-2.35,10.9)]),
 (False,[(-7.2,8.55),(-6.5,8.65),(-5.5,8.45),(-4.8,8.15),(-4.35,7.7),(-4.55,7.05),(-4.8,6.5),(-4.55,5.9),(-4.1,5.4)]),
 (False,[(-7.2,8.35),(-6.5,8.5),(-5.7,8.25),(-5.15,7.7),(-4.95,7.05),(-5.05,6.5),(-4.7,5.9),(-4.3,5.55)]),
 (False,[(-7.1,8.1),(-6.5,8.25),(-5.85,7.95),(-5.5,7.35),(-5.5,6.65),(-5.15,6.05),(-4.7,5.6)]),
 (True,[(-6.85,7.45),(-6.5,7.8),(-6.05,7.6),(-5.8,7.2),(-6.1,6.9),(-6.5,6.95)]),
 (False,[(-7.1,7.65),(-7,7.15),(-6.65,6.7),(-6.3,6.4),(-5.85,5.9),(-5.4,5.3),(-5.05,5.1),(-4.9,5.3),(-5.1,5.75)]),
 (False,[(-7.25,6.9),(-6.85,6.35),(-6.3,5.75),(-5.7,5.1),(-5.05,4.95),(-4.8,5.1)]),
 (False,[(-7.25,6.55),(-7,6.05),(-6.45,5.4),(-5.7,4.9),(-4.9,4.65),(-4.35,4.6),(-4,4.8),(-4.1,5.25),(-4.4,5.5)]),
 (False,[(-7.25,6.2),(-7,5.7),(-6.5,5.1),(-5.8,4.6),(-5,4.35),(-4.3,4.35),(-3.9,4.6),(-3.8,5.1)]),
 (False,[(-7.25,5.65),(-6.95,5.1),(-6.2,4.45),(-5.5,4.15),(-4.8,4.1),(-4.3,4.1),(-3.65,3.85),(-2.7,3.75),(-2.05,3.45),(-1.2,3.05),(-.55,2.85),(.15,2.7),(1,2.75),(1.65,3),(1.9,3.5),(1.75,4),(1.2,4.5),(.5,4.85),(0,5.05)]),
 (False,[(-7.25,5),(-6.65,4.6),(-5.8,4.1),(-4.8,3.75),(-4.3,3.7),(-3.5,3.35),(-2.5,3.3),(-1.8,2.95),(-.65,2.5),(.05,2.3),(1.1,2.35),(1.9,2.65),(2.2,3.05),(2,3.55),(2,4.3),(2.35,4.6),(3.6,4.85)]),
 (False,[(-6.2,4.05),(-5.4,3.6),(-4.8,3.35),(-4.1,3.1),(-3.5,2.95),(-2.6,2.9),(-1.9,2.5),(-.65,1.95),(.15,1.85),(1.4,2.05),(2.25,2.25),(2.6,2.65),(2.5,3.2),(2.3,3.7),(2.35,4.15),(2.9,4.4),(3.4,4.3),(3.55,3.65),(3,2.65),(3.05,2.1),(3.7,1.55),(5.2,.6),(5.5,.3)]),
 (False,[(-3.2,4.25),(-3,4.3),(-2.5,4.25),(-2.25,4.15),(-1.7,3.7),(-1.2,3.4),(-.4,3.15),(.35,3),(.95,3.15),(1.3,3.5),(1.05,3.95),(.5,4.2),(-.55,4.75),(-.65,5.05),(-1,5.6),(-1.25,6.4),(-1.55,6.4)]),
 (False,[(-2.15,5),(-1.8,4.15),(-1.25,3.8),(-.85,4.1),(-.7,4.3),(-1.1,4.8),(-1.8,5.4),(-2.1,6.1),(-2.15,6.4)]),
 (False,[(-3.5,7.85),(-2.85,8.2),(-2.35,7.85),(-1.8,7.55),(-1.45,7.7),(-1.45,8.45),(-1.9,8.9),(-2.25,9.4),(-2.35,10.25),(-2.15,10.9)]),
 (True,[(-1.6,10.2),(-1.35,10.55),(-1,10.25),(-1.2,9.75),(-1.5,9.9)]),
 (False,[(-2,10.9),(-1.9,10.2),(-1.8,9.7),(-1.2,9.25),(-.75,9.7),(-.8,10.35),(-.9,10.9)]),
 (False,[(-.65,10.9),(-.5,10.4),(-.65,9.7),(-.4,9),(.5,8.6),(1.05,8.5),(1.65,8.9),(2.2,8.8),(2.35,8.6),(2.2,8.15),(1.55,7.85),(.7,7.3),(-.65,7.35),(-1,7),(-.8,6.05),(-.45,5.3),(.15,4.75),(.85,4.3),(1.4,3.85)]),
 (False,[(-.3,10.9),(-.1,10.35),(-.2,9.7),(.25,9.1),(1.05,8.9),(1.55,9.2),(2.35,9.1),(2.7,8.75),(2.6,8.1),(2,7.65),(1.75,7.05),(1.4,6.5),(.85,6.4),(.35,6.4),(.3,6.1),(.85,6.05),(2.45,5.9),(3,6.3)]),
 (False,[(0,10.9),(.25,10.2),(.5,9.75),(1.3,9.6),(2.2,9.9),(2.9,9.7),(3.25,9.55),(3.55,9.1),(3.45,8.4),(3.7,7.95),(4.3,8.1),(5.3,8.25),(6.05,8.25),(6.85,8.65),(7.55,9.1),(8.45,9.35),(9.5,9.35),(10.5,9.2),(11.2,8.9),(11.9,8.3),(12.8,8.1),(13.35,8.05),(13.75,7.75)]),
 (True,[(-4.5,6.35),(-4.2,6.7),(-3.75,6.7),(-3.55,6.35),(-3.85,6.05),(-4.3,6.05)]),
 (False,[(-3.55,7.7),(-4.1,7.45),(-4.5,6.85),(-4.75,6.2),(-4.45,5.7),(-3.85,5.65),(-3.2,6.05),(-3.1,6.65),(-3.4,7.2),(-3.3,7.65),(-3.05,7.95)]),
 (False,[(-3.1,7.35),(-2.75,6.7),(-2.85,6.05),(-3.05,5.85),(-3.4,5.4),(-2.85,5.4),(-2.3,5.85),(-2,6.5),(-1.55,6.4),(-1.25,5.85),(-1,5.05),(-.65,4.35),(-.3,3.8)]),
 (False,[(-2.15,6.4),(-1.9,6.1),(-1.8,5.4),(-1.6,4.9),(-1.2,4.35),(-.9,4),(-1.25,3.85),(-1.7,4.1),(-2.15,4.95),(-2.3,5.6),(-2.5,5.9),(-2.75,4.95),(-3.15,4.6),(-3.2,4.3)]),
 (False,[(3.15,7.15),(3.7,7.5),(4.65,7.85),(6,7.9),(6.7,8.25),(7.5,8.65),(8.45,8.9),(9.5,8.9),(10.5,8.75),(11.2,8.4),(12,7.95),(12.9,7.75),(13.45,7.5),(13.8,7.15)]),
 (True,[(3.45,6.4),(3.5,6.9),(4.05,7.35),(5.1,7.55),(6.15,7.5),(7.05,7.45),(7.4,7.3),(7.2,6.9),(6.25,6.35),(5.45,5.85),(5.2,5.25),(5,4.45),(4.8,4.3),(4.6,4.5),(4.45,5.1),(3.85,5.6)]),
 (False,[(7.55,7.35),(7.85,7.8),(8.45,8.1),(9.15,8),(9.9,7.8),(10.5,7.85),(11.4,7.65),(12.35,7.45),(13,7.05),(13.35,6.65),(13.8,6)]),
 (False,[(7.55,7.35),(7.95,7.15),(8.8,6.7),(9.7,6.25),(10.7,5.9),(11.55,5.55),(11.75,5.2),(11.5,4.65),(11,4.45),(10.5,4.35),(10.15,4),(10.25,3.3),(10.65,2.9),(11.1,2.35),(11.55,2.25),(12.25,2.55),(13,2.85),(13.75,3.3)]),
 (False,[(7.05,7.7),(7.55,8),(8.4,8.45),(9.35,8.45),(10.2,8.2),(11,8),(11.8,7.7)]),
 (True,[(8.35,7.5),(8.7,7.7),(9.15,7.45),(9.25,7.15),(8.8,7.15),(8.45,7.35)]),
 (True,[(4.8,6.65),(5.2,6.85),(5.7,6.65),(5.35,6.25),(4.9,6.3)]),
 (True,[(4.4,6.15),(4.4,6.7),(5.2,7.05),(6.1,6.8),(5.95,6.15),(5.2,5.75),(4.6,5.85)]),
 (True,[(6.9,3.55),(7.1,4.35),(7.5,5.15),(8.45,4.75),(8.1,4.15),(7.6,3.45),(7.15,3.3)]),
 (True,[(5.15,3.2),(5.45,3.7),(6.35,4.9),(6.95,5.9),(7.85,6.25),(8.2,6),(8.45,5.45),(9,4.75),(9,4.3),(8.65,3.5),(8.4,2.65),(7.95,2.5),(7.05,2.75),(6,2.75),(5.35,2.85)]),
 (False,[(5.3,5.2),(6.15,5.85),(7.4,6.7),(7.85,6.8),(8.65,6.4),(9,5.75),(9.7,4.9),(9.75,4.1),(9.45,3.35),(9.7,2.9),(10.4,2.25),(10.5,1.3),(11.1,1.4),(12,1.95),(12.9,2.5),(13.8,2.9)]),
 (True,[(9,2.1),(9.45,2.4),(9.85,2.1),(9.5,1.75),(9.15,1.85)]),
 (True,[(10.95,6.65),(11.4,7),(12,6.9),(12.25,6.55),(11.85,6.2),(11.3,6.35)]),
 (True,[(10.7,6.7),(10.95,7.15),(11.65,7.3),(12.35,6.9),(12.35,6.35),(11.55,6.05),(10.95,6.25)]),
 (False,[(10.15,6.8),(10.7,7.3),(11.65,7.5),(12.55,7.2),(12.9,6.65),(13.25,5.9),(13.7,5.3)]),
 (False,[(10.15,6.8),(10.4,6.3),(10.95,5.95)]),
 (False,[(12.5,5.95),(12.35,5.45),(12.35,4.75),(12.15,3.5),(12.45,3.2),(13.05,3.05),(13.75,3.45)]),
 (False,[(12,5.95),(12.1,5.1),(12,4),(12.15,3.45)]),
 (True,[(12.95,4.9),(13.25,5.05),(13.55,4.35),(13.4,3.7),(12.9,3.7),(12.65,4.15)]),
 (False,[(12.7,6.85),(13.15,6.4),(13.8,5.55)]),
 (False,[(12.6,6.2),(12.75,5.75),(12.65,4.75),(12.55,3.65),(12.9,3.35),(13.7,3.7)]),
 (False,[(3.15,2.1),(3.75,1.75),(4.65,1.3),(5.2,.6),(5.5,.3)]),
 (False,[(3.55,3.15),(3.6,2.55),(4.05,1.95),(4.9,1.3),(5.6,.65),(6.1,.25)]),
 (False,[(3.15,4.8),(3.7,4.75),(4.15,4.1),(4.1,3.5),(3.7,2.9),(3.6,2.55)]),
 (False,[(5.15,1.9),(5.7,2.35),(6.7,2.35),(7.55,1.9),(8.45,1.6),(9.15,1.15),(9.3,.65),(9,.25)]),
 (False,[(5.15,1.9),(5.4,1.3),(5.8,.75),(6.9,.25)]),
 (False,[(5.5,1.6),(5.9,2.05),(6.7,2.1),(7.55,1.6),(8.3,1.15),(8.7,.65),(8.55,.25)]),
 (False,[(5.5,1.6),(5.8,1.05),(6.7,.5),(7.95,.25)]),
 (True,[(5.98,1.4),(6.25,1.75),(6.9,1.75),(7.5,1.25),(8.4,.9),(8.4,.6),(7.75,.65),(6.9,.8),(6.15,1.15)]),
 (False,[(9.95,.3),(10.7,.45),(11.55,1.05),(12.45,1.75),(13.75,2.55)]),
 (False,[(11.15,.3),(12,.8),(12.9,1.6),(13.75,2.1)]),
]
p_contours = [
 (False,[(-3.4,10.9),(-3.4,9.6),(-3.65,9.4),(-4.95,9.25),(-7.1,9.15)]),
 (False,[(-3.05,10.9),(-2.8,9.1),(-2.75,8.8),(-3.15,8.65),(-5,8.85),(-7.15,8.8)]),
 (False,[(.1,11),(.1,9.65),(.2,9.4),(.35,8.7),(.4,8.05),(-.25,7.7),(-1.05,7.3),(-1.4,6.95),(-1.4,6.45),(-1.4,5.95)]),
 (False,[(-.35,10.9),(-.5,10.05),(-.1,9.15),(-.05,8.7),(-2.25,8.65)]),
 (True,[(-1.9,10.35),(-1.6,10.55),(-1.3,10.35),(-1.4,10.05),(-1.75,10.05)]),
 (True,[(-2.25,10.35),(-1.9,10.8),(-1.2,10.8),(-.95,10.35),(-1.1,9.8),(-1.75,9.75),(-2.2,9.95)]),
 (True,[(-2.55,10.4),(-2.35,10.9),(-.6,10.9),(-.6,10.2),(-.85,9.6),(-1.55,9.4),(-2.25,9.65),(-2.55,10.05)]),
 (False,[(-2.8,10.9),(-2.85,10.35),(-2.55,9.55),(-1.9,8.95),(-.85,8.95),(-.3,9.7),(-.1,10.9)]),
 (True,[(-6.9,7.7),(-6.5,7.9),(-6.1,7.6),(-6.2,7.25),(-6.65,7.15),(-6.9,7.4)]),
 (True,[(-7.1,7.6),(-6.65,8.15),(-6.05,8.05),(-5.7,7.55),(-5.95,6.95),(-6.55,6.8),(-7,7.15)]),
 (False,[(-7.25,8.35),(-6.5,8.6),(-5.65,8.3),(-5.05,8.1),(-3.9,8.3),(-3.2,8.25),(-2.55,7.85),(-1.9,7.25),(-1.7,6.8),(-1.6,6.1)]),
 (False,[(-7.25,6.8),(-6.7,6.55),(-6.1,6),(-5.5,5.2),(-5,4.75),(-4.55,4.75)]),
 (False,[(-7.25,6.2),(-6.8,5.7),(-6,5.15),(-5.3,4.65),(-4.55,4.65)]),
 (False,[(-7.25,5.4),(-6.75,4.9),(-5.95,4.45),(-4.45,4.4),(-4,3.85),(-3.55,3.4),(-2.85,3.3),(-2.5,3.8),(-2.25,4.2)]),
 (True,[(-3.3,7.2),(-2.9,7.7),(-2.5,7.25),(-2.35,6.6),(-2.85,6.6)]),
 (True,[(-3.65,7),(-3.15,7.9),(-2.45,7.7),(-1.9,7),(-1.8,6.3),(-2.1,6),(-3,6.15),(-3.4,6.55)]),
 (False,[(-5,6.45),(-5.2,5.75),(-4.95,5.05)]),
 (False,[(-4.95,6.2),(-4.55,6.75),(-3.85,7),(-3.4,6.2),(-3.5,5.5),(-4,5.1),(-4.6,5.65)]),
 (False,[(-3.65,4.2),(-3.4,3.8),(-2.9,3.65),(-2.65,4.1),(-2.3,4.6)]),
 (True,[(-.3,2.85),(0,2.2),(.65,2.05),(1.55,2.2),(1.75,2.6),(1.5,3.2),(1.1,3.55),(.75,3.7),(0,3.3)]),
 (False,[(.15,2.85),(.55,2.55),(1.25,2.65),(1.25,3),(.9,3.3),(.65,3.4)]),
 (False,[(3.7,2.35),(3.95,1.7),(5.55,.2)]),
 (False,[(6.15,.2),(4.75,1.5),(4.25,2.2),(5.25,2.65),(6.55,2.3),(7.35,1.8),(8.65,1.05),(9.2,.25)]),
 (False,[(6.95,.2),(5.4,1.25),(4.75,1.9),(5.7,2.2),(6.85,1.7),(8.15,.95),(8.55,.25)]),
 (True,[(5.75,1.5),(6.2,1.8),(7.2,1.35),(8,.65),(7.35,.55),(6.2,1.15)]),
 (False,[(3.15,7.85),(4.5,8.05),(5.9,8.1),(6.75,8.4),(7.45,9),(8.35,9.5),(9.3,9.45),(10,9.25),(11,9.1),(11.8,8.7),(12.85,8.3),(13.85,7.75)]),
 (False,[(3.5,7.6),(5,7.75),(6.3,7.75),(6.75,8.05),(7.45,8.65),(8.35,9.15),(9.3,9.2),(10.55,8.85),(11.5,8.55),(12.75,8),(13.85,7.2)]),
 (False,[(3.15,6.05),(3.15,6.55),(4.25,7.6),(6.2,7.55),(6.75,7.7),(7.55,8.15),(8.25,8.75),(9.15,8.85),(9.85,8.45),(10.45,8.2),(11.4,7.85),(12.5,7.75),(13.3,7.25),(13.85,6.15)]),
 (False,[(7.55,7.55),(7.9,8.2),(8.5,8.45),(9.3,8.2),(9.95,7.75),(10.3,7.45),(11.5,7.6),(12.2,7.45),(12.75,6.95),(12.95,6.35),(13.45,5.7),(13.75,4.95),(13.7,4.25),(13.45,3.8)]),
 (True,[(8.3,7.45),(8.8,8),(9.5,7.6),(9.6,7.15),(9.15,6.95),(8.45,7.25)]),
 (True,[(8.65,7.65),(8.85,7.9),(9.15,7.55),(9,7.35)]),
 (True,[(7.8,7.45),(8.2,8.05),(8.9,8.2),(9.65,7.6),(9.75,7.05),(9.05,6.7),(8.25,6.95)]),
 (True,[(10.9,6.8),(11.35,7.3),(12.05,7.2),(12.25,6.6),(11.7,6.3),(11.05,6.5)]),
 (True,[(10.55,6.9),(11.05,7.45),(11.95,7.55),(12.6,6.95),(12.5,6.3),(11.7,5.95),(10.9,6.2)]),
 (False,[(6.75,6.7),(7.6,6.8),(8.5,6.35),(9.1,5.85),(9.85,5.4),(9.95,4.9),(10.55,4.4),(11.35,3.95),(12.25,3.35),(13.75,3.35)]),
 (False,[(2.65,6.15),(3.3,5.5),(4.9,5.35),(6.55,6),(7.95,6.3),(8.15,6),(8.5,5.4),(9.05,4.8),(9.65,4.45),(10.55,4.1),(11.35,3.35),(12.25,3.05),(13.75,3.05)]),
 (False,[(2.4,5.7),(3.3,5.15),(4.6,5),(6.2,5.4),(7.4,5.5),(7.85,5.1),(8.2,4.6),(8.7,4.25),(9.5,3.85),(10.3,3.5),(11.1,3),(12.05,2.7),(13.75,2.75)]),
 (False,[(10.1,3.2),(11.2,2.75),(12.2,2.3),(13.75,2.4)]),
 (False,[(11.6,5.7),(11.8,4.95),(11.8,4.25),(12.3,3.65),(13.1,3.35),(13.85,3.45)]),
 (True,[(12.5,4.45),(12.65,5),(12.95,5.1),(13.4,4.45),(13.3,3.7),(12.75,3.65)]),
 (False,[(12.05,4.85),(12.15,5.4),(12.6,5.8),(13.2,5.7),(13.65,4.8),(13.75,4)]),
 (True,[(4.75,6.55),(5.05,6.7),(5.5,6.5),(5.05,6.3)]),
 (True,[(4.1,6.55),(5,7),(6.05,6.65),(5.8,6.15),(4.75,6.05)]),
 (True,[(3.55,6.45),(4.6,7.2),(6.2,7.05),(6.85,6.65),(6.05,5.9),(4.4,5.8),(3.6,6.05)]),
 (False,[(1.5,8.45),(1.25,9),(1.85,9.6),(2.95,9.55),(3.35,8.9),(3.15,8.15),(2.3,7.8)]),
 (False,[(1.75,8.85),(2.25,9.2),(2.95,8.9),(2.8,8.45),(2.4,8.25)]),
]
p_red_contours = [
 (True,[(1.35,8.25),(2,8.2),(2.4,7.7),(2.25,7),(1.35,6.55),(.8,6),(.85,5.5),(1.65,5.05),(2.8,4.9),(3.95,4.85),(4.75,4.25),(5.55,4.1),(6.05,3.5),(6.85,3.4),(8,3.55),(9.3,3.3),(10.6,2.9),(11.15,2.35),(11.3,1.5),(11.05,.55),(10.1,.3),(9.3,.45),(8.65,.95),(7.5,1.6),(6.55,2.2),(5.55,2.75),(4.6,3.05),(3.95,2.55),(3.15,2.2),(2.4,2.3),(1.65,2.95),(.7,3.9),(-.6,4),(-.85,5.6),(-1.1,6.35),(-.75,6.9),(.05,7.2),(.7,7.6)]),
 (False,[(.7,6.9),(1.25,8.05),(1.8,8.2),(2.4,7.45),(2.15,6.9),(1.5,6.55),(.9,6.65),(.7,6.9)]),
 (False,[(1.6,8.25),(2.15,7.5),(2.05,7),(1.5,6.7)]),
 (False,[(-.6,6.05),(-.5,6.6),(.1,6.8),(.55,6.6),(.2,6),(-.25,5.4),(0,4.75),(.9,4.8),(1.8,4.8),(3,4.75)]),
 (False,[(.8,5.75),(1.15,5.35),(1.75,5.05),(2.55,4.8),(3.2,4.7)]),
 (False,[(-.85,5.85),(-.5,5.25),(-.25,4.6),(.35,4.4),(.7,4.1),(1.6,3.5),(2.1,2.9)]),
 (False,[(-1.05,5.4),(-.6,4.7),(-.25,4.25),(.6,4.05),(1.2,3.6),(1.9,2.9)]),
 (True,[(2.55,3.65),(3.05,4.1),(3.55,3.7),(3.4,3.3),(2.85,3.2)]),
 (True,[(2.25,3.65),(2.95,4.35),(3.85,3.95),(3.9,3.35),(3.2,2.9),(2.4,3.15)]),
 (True,[(1.9,3.7),(2.7,4.55),(3.95,4.3),(4.35,3.7),(3.9,3),(3.05,2.6),(2.15,2.9)]),
 (True,[(1.45,3.5),(1.85,4.1),(2.6,4.7),(3.9,4.7),(4.7,3.95),(5.35,3.7),(4.8,3.2),(3.75,2.85),(2.85,2.4),(1.9,2.85)]),
 (True,[(1.65,3.6),(2.2,4.35),(3.2,4.55),(4.2,4.4),(4.6,3.6),(4.2,3),(3.4,2.55),(2.5,2.45),(1.95,3)]),
 (True,[(2.05,3.55),(2.65,4.2),(3.45,4.2),(4.15,3.75),(3.95,3.1),(3.2,2.75),(2.45,2.95)]),
 (False,[(4,4.75),(4.7,4.4),(5.15,4.1),(6.05,3.85),(6.85,3.4),(7.65,3.5),(8.5,3.35),(9.4,3.2),(10.45,2.75),(11.15,2.2),(11.45,1.45),(11.25,.7),(10.55,.35),(9.75,.25),(9.2,.55)]),
 (False,[(5.15,3.7),(5.7,3.7),(6.3,3.15),(7.1,3.15),(8.5,3.25),(9.75,3),(10.65,2.45),(11,1.75),(10.95,1.05),(10.45,.65),(9.8,.65)]),
 (False,[(7.05,2.6),(7.45,2.9),(8.7,3),(9.95,2.75),(10.65,2.1),(10.75,1.35),(10.4,.85),(9.6,.85),(8.9,1.15)]),
 (False,[(7.4,2.45),(8,2.8),(8.9,2.75),(9.75,2.55),(10.4,2.05),(10.45,1.45),(10.2,1.15),(9.4,1.05)]),
 (True,[(7.9,2.25),(8.3,2.45),(9.05,2.45),(9.75,2.2),(10.1,1.8),(10,1.5),(9.6,1.3),(9.05,1.45),(8.6,1.9),(8.1,2.1)]),
 (False,[(4.6,3.05),(5.15,3.05),(5.6,2.9),(6.3,2.85),(7,2.4),(7.65,1.95),(8.45,1.5),(8.95,.85),(9.4,.4)]),
 (False,[(4.4,2.85),(5.15,2.85),(5.7,2.7),(6.45,2.45),(7.2,1.9),(8,1.45),(8.8,1.05),(9.15,.6)]),
 (False,[(4.1,2.6),(5.15,2.55),(5.8,2.4),(6.45,2.2),(7.3,1.75),(8.1,1.2),(8.8,.85)]),
 (False,[(7.1,2.3),(7.8,1.85),(8.5,1.25),(9,.95),(9.5,.7)]),
]

legend_labels = ['C1', 'C1-C3', 'C2', 'C3']
legend_colors = ['#FF0000', '#FFA500', '#00CD00', '#0000FF']


def px_axes(fig, l, t, r, b):
    return fig.add_axes([l / W, 1 - b / H, (r - l) / W, (b - t) / H])


def smooth(points, closed):
    pts = list(points)
    if closed:
        start = ((pts[-1][0] + pts[0][0]) / 2, (pts[-1][1] + pts[0][1]) / 2)
        verts, codes = [start], [Path.MOVETO]
        for i, p in enumerate(pts):
            q = pts[(i + 1) % len(pts)]
            verts += [p, ((p[0] + q[0]) / 2, (p[1] + q[1]) / 2)]
            codes += [Path.CURVE3, Path.CURVE3]
    else:
        verts, codes = [pts[0]], [Path.MOVETO]
        for i in range(1, len(pts) - 1):
            p, q = pts[i], pts[i + 1]
            end = q if i == len(pts) - 2 else ((p[0] + q[0]) / 2, (p[1] + q[1]) / 2)
            verts += [p, end]
            codes += [Path.CURVE3, Path.CURVE3]
        if len(pts) == 2:
            verts.append(pts[1]); codes.append(Path.LINETO)
    return Path(verts, codes)


def draw_contours(ax, traces, rgba, lw):
    for closed, pts in traces:
        ax.add_patch(PathPatch(smooth(pts, closed), fc='none', ec=rgba, lw=lw,
                               capstyle='butt', joinstyle='round', zorder=4))


def umap_panel(ax, gray, red, orange, green, blue, contours, frame, frame_lw, grid, txt):
    ax.set_facecolor(BG)
    ax.set_xlim(-8.2, 14.77)
    ax.set_ylim(-.28, 11.49)
    ax.set_xticks([-5, 0, 5, 10])
    ax.set_xticks([-7.5, -2.5, 2.5, 7.5, 12.5], minor=True)
    ax.set_yticks([0, 3, 6, 9])
    ax.set_yticks([1.5, 4.5, 7.5, 10.5], minor=True)
    ax.grid(True, which='major', color=grid, lw=1.8, zorder=0)
    ax.grid(True, which='minor', color=grid, lw=0.9, zorder=0)
    ax.set_axisbelow(True)
    ax.tick_params(which='minor', length=0)
    ax.tick_params(which='major', length=3, width=1, color=txt, labelcolor=txt, labelsize=13, pad=4)
    for s in ax.spines.values():
        s.set_color(frame); s.set_linewidth(frame_lw)
    for pts, c in ((gray, '#BEBEBE'), (red, '#FF0000'), (orange, '#FFA500'), (green, '#00CD00'), (blue, '#0000FF')):
        ax.scatter([p[0] for p in pts], [p[1] for p in pts], s=31, marker='D', c=c,
                   linewidths=0, zorder=3)
    draw_contours(ax, contours, (0.08, 0.08, 1, 0.22), 7.0)


fig = plt.figure(figsize=(W / 100, H / 100), dpi=100, facecolor=BG)

ax1 = px_axes(fig, 52, 84, 917, 623)
umap_panel(ax1, d_gray, d_red, d_orange, d_green, d_blue, d_contours, '#7f7f7f', 1.6, '#F8FBFB', '#808080')
ax2 = px_axes(fig, 55, 684, 923, 1218)
umap_panel(ax2, p_gray, p_red, p_orange, p_green, p_blue, p_contours, '#333333', 1.0, '#E2EBEB', '#666666')
draw_contours(ax2, p_red_contours, (1, 0, 0, 0.42), 7.2)
ax2.scatter([p[0] for p in p_purple], [p[1] for p in p_purple], s=31, marker='D', c='#7A0A86',
            linewidths=0, zorder=5)

# bar chart
ax3 = px_axes(fig, 1092, 126, 2037, 1115)
ax3.set_facecolor(BG)
xs = list(range(len(bar_categories)))
ax3.bar([x - .225 for x in xs], bar_red, width=.45, color='#F8766D', zorder=3)
ax3.bar([x + .225 for x in xs], bar_teal, width=.45, color='#00BFC4', zorder=3)
ax3.set_xlim(-.6, 3.6)
ax3.set_ylim(-2.26, .84)
ax3.set_yticks([-2, -1.5, -1, -.5, 0, .5])
ax3.set_yticklabels(['-2.0', '-1.5', '-1.0', '-0.5', '0.0', '0.5'])
ax3.set_yticks([-1.75, -1.25, -.75, -.25, .25, .75], minor=True)
ax3.set_xticks(xs)
ax3.set_xticklabels([])
for x, lab, off in zip(xs, bar_categories, [6, 17, 8, 5]):
    ax3.annotate(lab, (x, 0), xycoords=ax3.get_xaxis_transform(), xytext=(off * .72, -43),
                 textcoords='offset points', ha='center', va='baseline', fontsize=37,
                 fontweight='bold', color='black', annotation_clip=False)
ax3.grid(True, which='major', color='#FFFFFF', lw=1.6, zorder=0)
ax3.grid(True, which='minor', axis='y', color='#FFFFFF', lw=0.9, zorder=0)
ax3.set_axisbelow(True)
ax3.tick_params(which='minor', length=0)
ax3.tick_params(axis='y', which='major', length=4, width=1, color='#666666', labelcolor='#707070', labelsize=15.5, pad=5)
ax3.tick_params(axis='x', which='major', length=4, width=1, color='#555555')
for s in ax3.spines.values():
    s.set_color('#666666'); s.set_linewidth(1.4)

# overlay in pixel space for titles, axis names and the legend strip
ov = fig.add_axes([0, 0, 1, 1], zorder=10)
ov.set_xlim(0, W); ov.set_ylim(H, 0); ov.axis('off'); ov.patch.set_alpha(0)
ov.text(1009, 583, 'log2-FC', rotation=90, fontsize=37, style='italic', ha='center', va='center', color='black')
for txt, x, base, ul0, ul1, ult, ulb in (('Dacinostat', 54, 63, 51, 324, 68, 73.5), ('Plicamycin', 54, 679, 50, 329, 684, 690)):
    ov.text(x, base, txt, fontsize=38.5, fontweight='bold', style='italic', ha='left', va='baseline', color='black')
    ov.add_patch(Rectangle((ul0, ult), ul1 - ul0, ulb - ult, fc='black', ec='none'))
ov.text(483, 660, 'UMAP_1', fontsize=13, ha='center', va='center', color='#707070')
ov.text(20, 352, 'UMAP_2', fontsize=13, rotation=90, ha='center', va='center', color='#707070')
ov.text(23, 951, 'UMAP_2', fontsize=13, rotation=90, ha='center', va='center', color='#555555')
ov.text(484, 1254, 'UMAP_1', fontsize=13, ha='center', va='center', color='#555555', zorder=1)
for x0, y0, x1, y1 in ((61, 1248, 432, 1325), (432, 1257, 640, 1325), (640, 1258, 952, 1317)):
    ov.add_patch(Rectangle((x0, y0), x1 - x0, y1 - y0, fc='white', ec='none', zorder=2))
for lab, col, cx, cy, tx, ty in zip(legend_labels, legend_colors, (98, 311, 620, 824), (1293, 1287, 1288, 1284), (182, 427, 704, 909), (1296, 1290, 1291, 1288)):
    ov.add_patch(Circle((cx, cy), 24.5, fc=col, ec='none', zorder=3))
    ov.text(tx, ty, lab, fontsize=28, ha='center', va='center', color='#2f3540', zorder=3)

fig.savefig('out.png', dpi=100, facecolor=BG)
